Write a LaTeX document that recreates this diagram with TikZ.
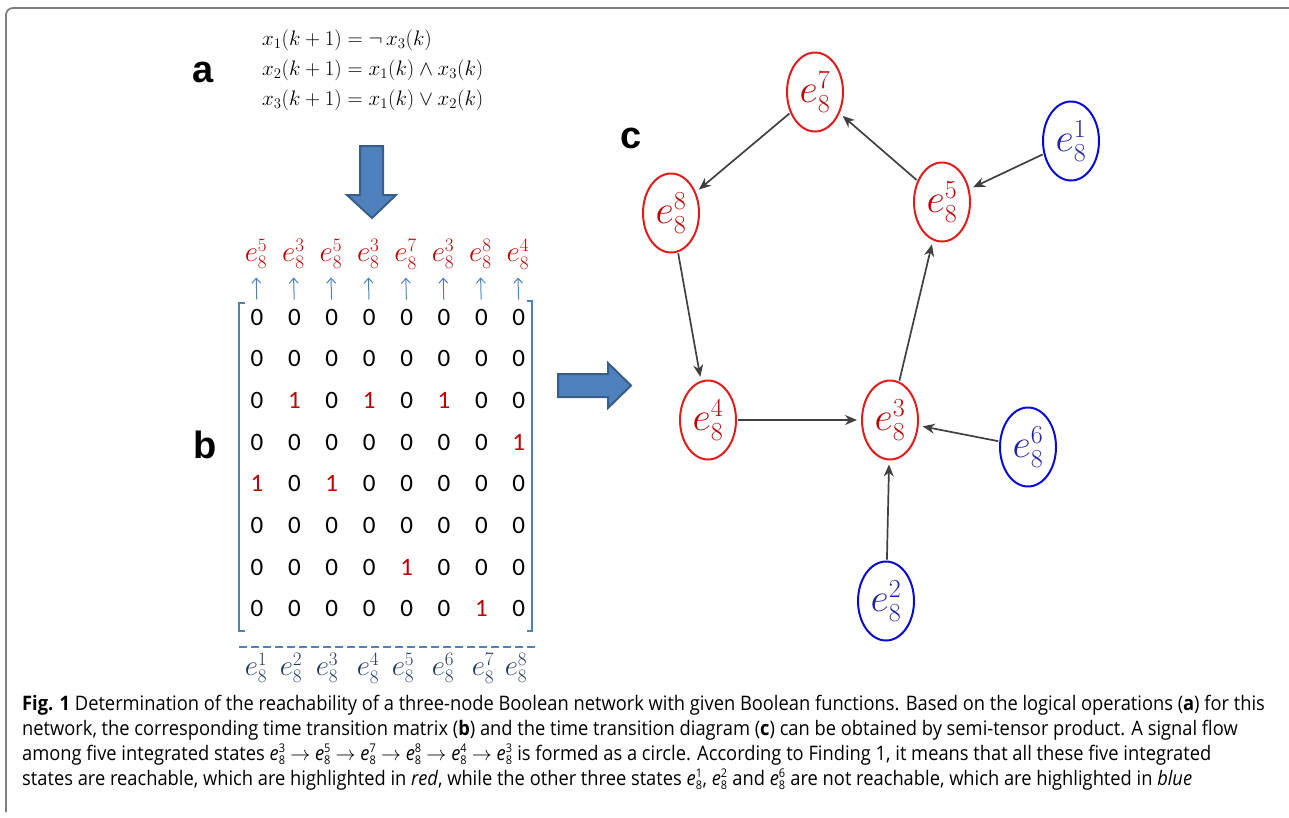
\documentclass[tikz,border=0pt]{standalone}
\usepackage{fix-cm}
\usepackage{fontspec}
\newfontfamily\capfont[FakeStretch=0.915]{Open Sans}
\newfontfamily\cellfont{Carlito}
\newfontfamily\labfont{Liberation Sans}
\usetikzlibrary{shapes.geometric,arrows.meta}
\definecolor{redline}{HTML}{E41B1B}
\definecolor{redtext}{HTML}{C00000}
\definecolor{blueline}{HTML}{0A0AD8}
\definecolor{bluetext}{HTML}{2222A8}
\definecolor{edgegray}{HTML}{404040}
\definecolor{ppblue}{HTML}{4F81BD}
\definecolor{ppdark}{HTML}{385D8A}
\definecolor{navy}{HTML}{1F3A60}
\definecolor{framegray}{HTML}{7F7F7F}
\newcommand{\cee}[1]{$\mbox{\itshape e}^{\mbox{\fontsize{12}{12}\selectfont #1}}_{\mbox{\fontsize{12}{12}\selectfont 8}}$}
% state label: base size, script size, superscript digit
\newcommand{\stl}[3]{\fontsize{#1}{#1}\selectfont$e^{\mbox{\fontsize{#2}{#2}\selectfont #3}}_{\mbox{\fontsize{#2}{#2}\selectfont 8}}$}
\tikzset{
  redstate/.style={ellipse, draw=redline, line width=2pt, minimum width=56pt, minimum height=79pt, inner sep=0pt, text=redtext},
  bluestate/.style={redstate, draw=blueline, text=bluetext},
  flow/.style={draw=edgegray, line width=1.7pt, -{Stealth[length=12pt,width=10pt]}, shorten >=4pt, shorten <=1pt},
  panel/.style={font=\labfont\bfseries\fontsize{38}{38}\selectfont, inner sep=0pt},
  cell0/.style={font=\cellfont\fontsize{25}{25}\selectfont, inner sep=0pt, text=black},
  cell1/.style={cell0, text=redtext},
  toplab/.style={text=redtext, inner sep=0pt},
  botlab/.style={text=navy, inner sep=0pt},
  smallarrow/.style={draw=ppblue, line width=1pt, -{Straight Barb[length=5pt,width=9pt]}},
  blockarrow/.style={fill=ppblue, draw=ppdark, line width=2pt},
  capline/.style={anchor=base west, inner sep=0pt, font=\capfont\fontsize{20}{20}\selectfont},
}
\begin{document}
\begin{tikzpicture}[x=1pt,y=-1pt]
\useasboundingbox (0,0) rectangle (1289,817);
% frame
\draw[framegray, line width=1.8pt, rounded corners=7pt] (6,812) -- (6,8) -- (1289,8);
% panel labels
\node[panel] (la) at (203,72) {a};
\node[panel] (lb) at (205,445) {b};
\node[panel] (lc) at (631,138) {c};
% equations
\node[anchor=west, align=left, inner sep=0pt, font=\fontsize{21}{30}\selectfont] (eqs) at (262,70)
  {$x_1(k+1) = \neg\, x_3(k)$\\ $x_2(k+1) = x_1(k) \wedge x_3(k)$\\ $x_3(k+1) = x_1(k) \vee x_2(k)$};
% block arrows
\draw[blockarrow] (360,146) -- (383,146) -- (383,195) -- (396,195) -- (372,218) -- (347,195) -- (360,195) -- cycle;
\draw[blockarrow] (558,374) -- (608,374) -- (608,363) -- (631,385.5) -- (608,408) -- (608,397) -- (558,397) -- cycle;
% matrix
\foreach \row [count=\r from 0] in {{0,0,0,0,0,0,0,0},{0,0,0,0,0,0,0,0},{0,1,0,1,0,1,0,0},{0,0,0,0,0,0,0,1},{1,0,1,0,0,0,0,0},{0,0,0,0,0,0,0,0},{0,0,0,0,1,0,0,0},{0,0,0,0,0,0,1,0}}{
  \foreach \v [count=\c from 0] in \row {
    \node[cell\v] (m-\r-\c) at ({257+37.4*\c},{317+41.7*\r}) {\v};
  }
}
% top labels and small arrows
\foreach \s [count=\c from 0] in {5,3,5,3,7,3,8,4}{
  \node[toplab] (t\c) at ({256+37.4*\c},254) {\stl{29}{19}{\s}};
  \draw[smallarrow, shorten <=9pt, shorten >=8pt] (m-0-\c.north) -- (t\c.south);
}
% brackets
\draw[ppblue, line width=1.2pt] (245,303) -- (239,303) -- (239,631) -- (245,631);
\draw[ppblue, line width=1.2pt] (527,301) -- (532,301) -- (532,631) -- (527,631);
% dashed rule
\draw[ppblue, line width=1.2pt, dash pattern=on 8pt off 4pt] (239,647) -- (537,647);
% bottom labels
\foreach \s/\xx in {1/256,2/291,3/327,4/368,5/403,6/443,7/483,8/516}{
  \node[botlab] (b\s) at (\xx,668) {\stl{29}{19}{\s}};
}
% state graph
\node[redstate] (e7) at (815,92) {\stl{40}{26}{7}};
\node[redstate] (e8) at (671,213) {\stl{40}{26}{8}};
\node[redstate] (e5) at (942,202) {\stl{40}{26}{5}};
\node[bluestate] (e1) at (1071,141) {\stl{40}{26}{1}};
\node[redstate] (e4) at (708,420) {\stl{40}{26}{4}};
\node[redstate] (e3) at (890,420) {\stl{40}{26}{3}};
\node[bluestate] (e6) at (1028,447) {\stl{40}{26}{6}};
\node[bluestate] (e2) at (886,601) {\stl{40}{26}{2}};
\draw[flow] (e7) -- (e8);
\draw[flow] (e5) -- (e7);
\draw[flow] (e1) -- (e5);
\draw[flow] (e8) -- (e4);
\draw[flow] (e3) -- (e5);
\draw[flow] (e4) -- (e3);
\draw[flow] (e6) -- (e3);
\draw[flow] (e2) -- (e3);
% caption
\node[capline] (c1) at (22,710) {\textbf{Fig. 1} Determination of the reachability of a three-node Boolean network with given Boolean functions. Based on the logical operations (\textbf{a}) for this};
\node[capline] (c2) at (22,735) {network, the corresponding time transition matrix (\textbf{b}) and the time transition diagram (\textbf{c}) can be obtained by semi-tensor product. A signal flow};
\node[capline] (c3) at (22,760) {among five integrated states \cee{3} $\rightarrow$ \cee{5} $\rightarrow$ \cee{7} $\rightarrow$ \cee{8} $\rightarrow$ \cee{4} $\rightarrow$ \cee{3} is formed as a circle. According to Finding 1, it means that all these five integrated};
\node[capline] (c4) at (22,785) {states are reachable, which are highlighted in \textit{red}, while the other three states \cee{1}, \cee{2} and \cee{6} are not reachable, which are highlighted in \textit{blue}};
\end{tikzpicture}
\end{document}
